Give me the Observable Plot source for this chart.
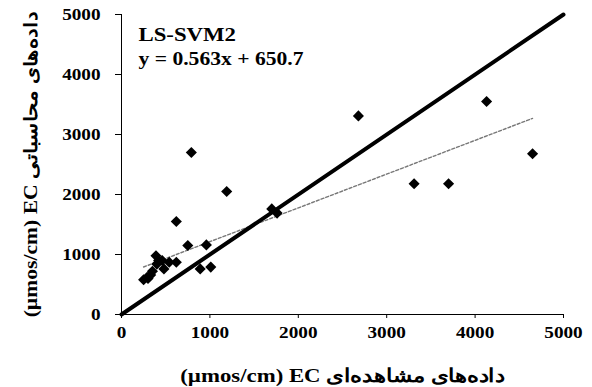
<!DOCTYPE html>
<html><head><meta charset="utf-8">
<script src="https://cdn.jsdelivr.net/npm/d3@7"></script>
<script src="https://cdn.jsdelivr.net/npm/@observablehq/plot@0.6"></script>
<style>
body{margin:0;background:#fff;}
svg text{font-family:"Liberation Serif","Times New Roman",serif;font-weight:bold;fill:#000;}
</style>
</head><body>
<div id="chart"></div>
<script>
// observed EC (µmos/cm)
const observed = [250, 290, 300, 330, 350, 390, 400, 420, 460, 480, 540, 620, 620, 750, 790, 890, 960, 1010, 1190, 1700, 1760, 2680, 3310, 3700, 4130, 4650];
// computed EC (µmos/cm)
const computed = [580, 620, 600, 660, 720, 980, 840, 900, 900, 760, 870, 870, 1550, 1150, 2700, 760, 1160, 790, 2050, 1760, 1690, 3310, 2180, 2180, 3550, 2680];
const tickValues = [0, 1000, 2000, 3000, 4000, 5000];
const identityLine = [0, 5000];
const slope = 0.563, intercept = 650.7;
const modelName = "LS-SVM2";
const equationLabel = "y = 0.563x + 650.7";
const xTitle = "(µmos/cm) EC داده\u200cهای مشاهده\u200cای";
const yTitle = "(µmos/cm) EC داده\u200cهای محاسباتی";

const points = observed.map((x, i) => ({x, y: computed[i]}));
const xMin = d3.min(observed), xMax = d3.max(observed);
const trend = [xMin, xMax].map(x => ({x, y: slope * x + intercept}));
const diag = identityLine.map(v => ({x: v, y: v}));

const chart = Plot.plot({
  width: 592, height: 387,
  marginLeft: 121, marginRight: 29, marginTop: 14, marginBottom: 73,
  style: {background: "#fff", overflow: "visible"},
  x: {domain: [0, 5000], labelArrow: "none"},
  y: {domain: [0, 5000], labelArrow: "none"},
  marks: [
    Plot.axisX({ticks: tickValues, tickFormat: d3.format("d"), tickSize: 4, tickPadding: 8, fontSize: 16,
      label: xTitle, labelAnchor: "center", labelOffset: 67, labelArrow: "none", className: "xaxis"}),
    Plot.axisY({ticks: tickValues, tickFormat: d3.format("d"), tickSize: 6, tickPadding: 15, fontSize: 16,
      label: yTitle, labelAnchor: "center", labelOffset: 97, labelArrow: "none", className: "yaxis"}),
    Plot.ruleX([0], {stroke: "#000", strokeWidth: 1}),
    Plot.ruleY([0], {stroke: "#000", strokeWidth: 1}),
    Plot.line(trend, {x: "x", y: "y", stroke: "#777", strokeWidth: 1.4, strokeDasharray: "3,2"}),
    Plot.line(diag, {x: "x", y: "y", stroke: "#000", strokeWidth: 4}),
    Plot.dot(points, {x: "x", y: "y", symbol: "diamond2", r: 5, fill: "#000", stroke: "none"}),
    Plot.text([modelName], {frameAnchor: "top-left", dx: 17, dy: 13, text: d => d, fontSize: 19, lineAnchor: "top", textAnchor: "start"}),
    Plot.text([equationLabel], {frameAnchor: "top-left", dx: 17, dy: 38, text: d => d, fontSize: 18, lineAnchor: "top", textAnchor: "start"})
  ]
});
document.getElementById("chart").appendChild(chart);
// horizontal stretch of text as in the reference (scale about each text's own anchor)
d3.select(chart).selectAll("text").each(function(){
  const t = this;
  t.textContent = t.textContent.replace(/[→↑←↓]/g, "").trim();
  let tr = t.getAttribute("transform");
  if (!tr) {
    const x = +(t.getAttribute("x") || 0), y = +(t.getAttribute("y") || 0);
    t.setAttribute("x", 0); t.setAttribute("y", 0);
    tr = `translate(${x},${y})`;
  }
  t.setAttribute("transform", tr + " scale(1.2,1)");
});
d3.select(chart).selectAll("[aria-label='x-axis label'] text, [aria-label='x-axis label']").style("font-size", "19px");
d3.select(chart).selectAll("[aria-label='y-axis label'] text, [aria-label='y-axis label']").style("font-size", "18px");
</script>
</body></html>
